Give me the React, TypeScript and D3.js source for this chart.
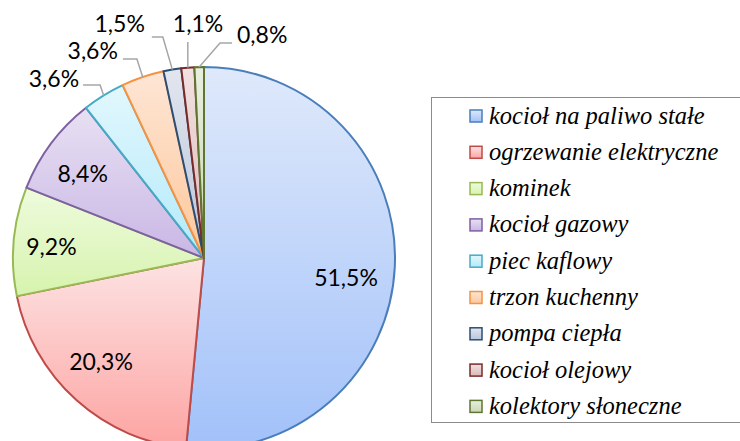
import React from 'react';
import * as d3 from 'd3';

const categories = [
  'kocioł na paliwo stałe',
  'ogrzewanie elektryczne',
  'kominek',
  'kocioł gazowy',
  'piec kaflowy',
  'trzon kuchenny',
  'pompa ciepła',
  'kocioł olejowy',
  'kolektory słoneczne',
];
const values = [51.5, 20.3, 9.2, 8.4, 3.6, 3.6, 1.5, 1.1, 0.8];
const valueLabels = ['51,5%', '20,3%', '9,2%', '8,4%', '3,6%', '3,6%', '1,5%', '1,1%', '0,8%'];

// styles
const strokes = ['#4a7ebb', '#be4b48', '#98b954', '#7d60a0', '#46aac5', '#f69240', '#2c4d75', '#772c2a', '#5f7530'];
const topFill = ['#dfe9fb', '#fde3e3', '#eefbdd', '#e8e0f3', '#e2f7fd', '#fee6d5', '#e2e6ee', '#f2e2e2', '#e9efe0'];
const botFill = ['#a2c1f9', '#fca4a2', '#d7f3ae', '#c9b7e5', '#b3eafa', '#fdc79b', '#b8c5d9', '#dcb8b7', '#c9d8b4'];

const W = 740, H = 441;
const cx = 204, cy = 258, R = 191;

const insideOffsets: Record<number, [number, number]> = {
  0: [-3, 13],
  1: [-6, -4],
  2: [-8, 2],
  3: [-5, 3],
};
type Out = { line: [number, number][]; text: [number, number]; anchor: string };
const outsideLayout: Record<number, Out> = {
  4: { line: [[0, 0], [-3.6, -10.5], [-20.6, -10.5]], text: [-24.6, -8.5], anchor: 'end' },
  5: { line: [[0, 0], [-5.8, -18], [-19.8, -18]], text: [-24.8, -18], anchor: 'end' },
  6: { line: [[0, 0], [-9.5, -32.6], [-20.5, -32.6]], text: [-27.5, -37.6], anchor: 'end' },
  7: { line: [[0, 0], [0, -25.7]], text: [10.2, -35.7], anchor: 'middle' },
  8: { line: [[0, 0], [20.8, -24.1], [32.8, -24.1]], text: [37.8, -24.1], anchor: 'start' },
};

export default function App() {
  const pie = d3.pie<number>().sort(null).value((d) => d)(values);
  const arc = d3.arc<d3.PieArcDatum<number>>().innerRadius(0).outerRadius(R);
  const labelFont = "Lato, 'Open Sans', sans-serif";
  const legendFont = "'Liberation Serif', serif";
  const legendX = 470, legendY0 = 110, legendStep = 36.3;

  return (
    <svg width={W} height={H} style={{ position: 'absolute', left: 0, top: 0, background: '#fff' }}>
      <defs>
        {categories.map((c, i) => (
          <linearGradient key={i} id={`g${i}`} x1="0" y1="0" x2="0" y2="1">
            <stop offset="0" stopColor={topFill[i]} />
            <stop offset="1" stopColor={botFill[i]} />
          </linearGradient>
        ))}
      </defs>
      <rect x={0} y={0} width={W} height={H} fill="#fff" />
      <g transform={`translate(${cx},${cy})`}>
        {pie.map((p, i) => (
          <path key={i} d={arc(p) || ''} fill={`url(#g${i})`} stroke={strokes[i]} strokeWidth={2} strokeLinejoin="round" />
        ))}
        {pie.map((p, i) => {
          const mid = (p.startAngle + p.endAngle) / 2;
          if (insideOffsets[i]) {
            const lr = R * 0.76;
            const [dx, dy] = insideOffsets[i];
            const x = lr * Math.sin(mid) + dx;
            const y = -lr * Math.cos(mid) + dy;
            return (
              <text key={i} x={x} y={y} dy="0.35em" textAnchor="middle" fontFamily={labelFont} fontSize={23} fill="#000">
                {valueLabels[i]}
              </text>
            );
          }
          const o = outsideLayout[i];
          const ax = R * Math.sin(mid), ay = -R * Math.cos(mid);
          const pts = o.line.map(([dx, dy]) => [ax + dx, ay + dy] as [number, number]);
          return (
            <g key={i}>
              <path d={d3.line()(pts) || ''} fill="none" stroke="#a6a6a6" strokeWidth={1.5} />
              <text x={ax + o.text[0]} y={ay + o.text[1]} textAnchor={o.anchor} fontFamily={labelFont} fontSize={23} fill="#000">
                {valueLabels[i]}
              </text>
            </g>
          );
        })}
      </g>
      <rect x={431.5} y={97.5} width={320} height={325} fill="#fff" stroke="#8c8c8c" strokeWidth={1} />
      {categories.map((c, i) => (
        <g key={i} transform={`translate(0,${legendY0 + i * legendStep})`}>
          <rect x={legendX} y={0} width={12} height={12} fill={`url(#g${i})`} stroke={strokes[i]} strokeWidth={1.5} />
          <text x={489} y={13.5} fontFamily={legendFont} fontStyle="italic" fontSize={24.5} fill="#000">
            {c}
          </text>
        </g>
      ))}
    </svg>
  );
}
